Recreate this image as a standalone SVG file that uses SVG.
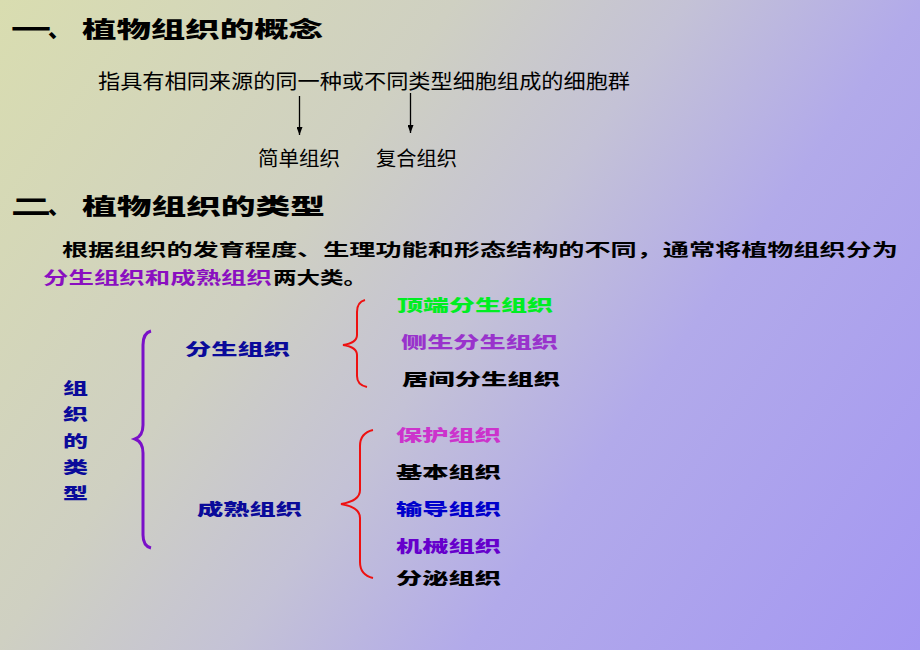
<svg xmlns="http://www.w3.org/2000/svg" width="920" height="650" viewBox="0 0 920 650">
  <defs>
    <linearGradient id="bg" gradientUnits="userSpaceOnUse" x1="0" y1="0" x2="920" y2="650">
      <stop offset="0" stop-color="#d9ddb0"/>
      <stop offset="0.33" stop-color="#cfd0c2"/>
      <stop offset="0.5" stop-color="#c4c2d6"/>
      <stop offset="0.67" stop-color="#b2aaea"/>
      <stop offset="1" stop-color="#a497f2"/>
    </linearGradient>
    <marker id="ah" viewBox="0 0 8 6" refX="8" refY="3" markerWidth="8" markerHeight="6" markerUnits="userSpaceOnUse" orient="auto">
      <path d="M0,0 L8,3 L0,6 Z" fill="#000"/>
    </marker>
    <style>
      text { font-family: "Noto Sans CJK SC", "Noto Sans", sans-serif; }
      .title { font-size: 22px; font-weight: 900; fill: #000; }
      .plain { font-size: 20px; font-weight: 400; fill: #000; }
      .body { font-size: 17px; font-weight: 700; fill: #000; }
      .lab { font-size: 16px; font-weight: 900; }
      .navy { fill: #0a0a9a; }
      .purple { fill: #8a0fc0; }
      .arrow { stroke: #000; stroke-width: 1.3; fill: none; }
      .brace-p { stroke: #7a10c8; stroke-width: 3; fill: none; }
      .brace-r { stroke: #ee1111; stroke-width: 2; fill: none; }
    </style>
  </defs>
  <rect x="0" y="0" width="920" height="650" fill="url(#bg)"/>

  <g id="title1">
    <text class="title" x="11" y="37" textLength="40" lengthAdjust="spacingAndGlyphs">一</text>
    <text class="title" x="48" y="37">、</text>
    <text class="title" x="82" y="37" textLength="241" lengthAdjust="spacingAndGlyphs">植物组织的概念</text>
  </g>
  <g id="definition">
    <text class="plain" x="98" y="89" textLength="532" lengthAdjust="spacingAndGlyphs">指具有相同来源的同一种或不同类型细胞组成的细胞群</text>
  </g>
  <g id="simple">
    <text class="plain" x="258" y="166" font-size="19" textLength="82" lengthAdjust="spacingAndGlyphs">简单组织</text>
  </g>
  <g id="compound">
    <text class="plain" x="376" y="166" font-size="19" textLength="81" lengthAdjust="spacingAndGlyphs">复合组织</text>
  </g>

  <g id="title2">
    <text class="title" x="11" y="214" textLength="40" lengthAdjust="spacingAndGlyphs">二</text>
    <text class="title" x="48" y="214">、</text>
    <text class="title" x="82" y="214" textLength="243" lengthAdjust="spacingAndGlyphs">植物组织的类型</text>
  </g>
  <g id="paragraph">
    <text class="body" x="62" y="256" textLength="836" lengthAdjust="spacingAndGlyphs">根据组织的发育程度、生理功能和形态结构的不同，通常将植物组织分为</text>
    <text class="body purple" x="43" y="284" textLength="229" lengthAdjust="spacingAndGlyphs">分生组织和成熟组织</text>
    <text class="body" x="273" y="284" textLength="94" lengthAdjust="spacingAndGlyphs">两大类。</text>
  </g>

  <g id="types">
    <text class="lab navy" x="63" y="394" textLength="25" lengthAdjust="spacingAndGlyphs">组</text>
    <text class="lab navy" x="63" y="420" textLength="25" lengthAdjust="spacingAndGlyphs">织</text>
    <text class="lab navy" x="63" y="447" textLength="25" lengthAdjust="spacingAndGlyphs">的</text>
    <text class="lab navy" x="63" y="473" textLength="25" lengthAdjust="spacingAndGlyphs">类</text>
    <text class="lab navy" x="63" y="499" textLength="25" lengthAdjust="spacingAndGlyphs">型</text>
  </g>
  <g id="meristem">
    <text class="lab navy" x="185" y="355" textLength="105" lengthAdjust="spacingAndGlyphs">分生组织</text>
  </g>
  <g id="mature">
    <text class="lab navy" x="197" y="515" textLength="105" lengthAdjust="spacingAndGlyphs">成熟组织</text>
  </g>

  <g id="apical"><text class="lab" fill="#00ee22" x="397" y="311" textLength="156" lengthAdjust="spacingAndGlyphs">顶端分生组织</text></g>
  <g id="lateral"><text class="lab" fill="#9933cc" x="401" y="348" textLength="157" lengthAdjust="spacingAndGlyphs">侧生分生组织</text></g>
  <g id="intercalary"><text class="lab" fill="#000" x="402" y="385" textLength="158" lengthAdjust="spacingAndGlyphs">居间分生组织</text></g>
  <g id="protective"><text class="lab" fill="#cc33cc" x="396" y="441" textLength="105" lengthAdjust="spacingAndGlyphs">保护组织</text></g>
  <g id="ground"><text class="lab" fill="#000" x="396" y="478" textLength="105" lengthAdjust="spacingAndGlyphs">基本组织</text></g>
  <g id="conducting"><text class="lab" fill="#0000cc" x="396" y="515" textLength="105" lengthAdjust="spacingAndGlyphs">输导组织</text></g>
  <g id="mechanical"><text class="lab" fill="#6600cc" x="396" y="552" textLength="105" lengthAdjust="spacingAndGlyphs">机械组织</text></g>
  <g id="secretory"><text class="lab" fill="#000" x="396" y="584" textLength="105" lengthAdjust="spacingAndGlyphs">分泌组织</text></g>

  <g id="connectors">
    <line class="arrow" x1="299.5" y1="96" x2="299.5" y2="135" marker-end="url(#ah)"/>
    <line class="arrow" x1="410.5" y1="93" x2="410.5" y2="133" marker-end="url(#ah)"/>
    <path class="brace-p" d="M151,331 Q143,333 143,345 L143,425 Q143,436 135,439 Q143,442 143,453 L143,535 Q143,546 151,548"/>
    <path class="brace-r" d="M365,300 Q357,302 357,312 L357,335 Q357,343 343,345 Q357,347 357,355 L357,376 Q357,385 367,387"/>
    <path class="brace-r" d="M373,430 Q360,433 360,446 L360,490 Q360,501 341,504 Q360,507 360,518 L360,562 Q360,575 373,578"/>
  </g>
</svg>
